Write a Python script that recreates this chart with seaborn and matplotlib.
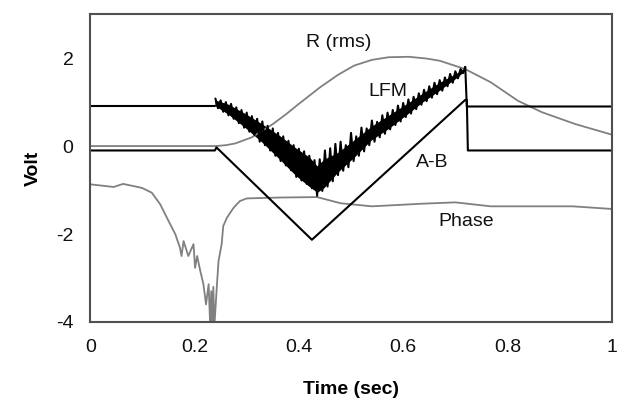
import matplotlib
matplotlib.use("Agg")
import matplotlib.pyplot as plt
import seaborn as sns

# R (rms) - smooth grey bell
r_x = [0.0, 0.24, 0.26, 0.278, 0.31, 0.35, 0.375, 0.40, 0.44, 0.475, 0.506, 0.54,
       0.572, 0.611, 0.645, 0.67, 0.719, 0.768, 0.82, 0.866, 0.93, 1.0]
r_y = [0.0, 0.0, 0.02, 0.06, 0.2, 0.5, 0.72, 0.96, 1.33, 1.62, 1.83, 1.96,
       2.02, 2.03, 1.99, 1.94, 1.75, 1.45, 1.03, 0.77, 0.50, 0.26]

# A-B - triangle
ab_x = [0.0, 0.239, 0.242, 0.425, 0.719, 0.722, 0.724, 1.0]
ab_y = [-0.10, -0.10, -0.03, -2.13, 1.05, 1.05, -0.10, -0.10]

# LFM - noisy band: envelope (upper / lower) and the jagged trace itself
lfm_x = [0.239, 0.265, 0.297, 0.33, 0.363, 0.395, 0.42, 0.435, 0.448, 0.474,
         0.507, 0.539, 0.572, 0.605, 0.637, 0.67, 0.703, 0.719]
lfm_hi = [1.05, 0.95, 0.74, 0.50, 0.24, -0.05, -0.25, -0.45, -0.30, -0.15,
          0.15, 0.45, 0.70, 0.95, 1.20, 1.45, 1.66, 1.78]
lfm_lo = [0.92, 0.72, 0.42, 0.08, -0.30, -0.68, -0.92, -1.05, -0.95, -0.60,
          -0.24, 0.14, 0.40, 0.70, 1.00, 1.27, 1.56, 1.72]

lfm_zx = [0.240, 0.245, 0.250, 0.255, 0.260, 0.265, 0.270, 0.275, 0.280, 0.285,
          0.290, 0.295, 0.300, 0.305, 0.310, 0.315, 0.320, 0.325, 0.330, 0.335,
          0.340, 0.345, 0.350, 0.355, 0.360, 0.365, 0.370, 0.375, 0.380, 0.385,
          0.390, 0.395, 0.400, 0.405, 0.410, 0.415, 0.420, 0.425, 0.430, 0.435,
          0.440, 0.445, 0.450, 0.455, 0.460, 0.465, 0.470, 0.475, 0.480, 0.485,
          0.490, 0.495, 0.500, 0.505, 0.510, 0.515, 0.520, 0.525, 0.530, 0.535,
          0.540, 0.545, 0.550, 0.555, 0.560, 0.565, 0.570, 0.575, 0.580, 0.585,
          0.590, 0.595, 0.600, 0.605, 0.610, 0.615, 0.620, 0.625, 0.630, 0.635,
          0.640, 0.645, 0.650, 0.655, 0.660, 0.665, 0.670, 0.675, 0.680, 0.685,
          0.690, 0.695, 0.700, 0.705, 0.710, 0.715, 0.719]
lfm_zy = [1.08, 0.86, 1.04, 0.78, 1.00, 0.70, 0.96, 0.62, 0.88, 0.52,
          0.82, 0.42, 0.76, 0.33, 0.68, 0.25, 0.62, 0.10, 0.56, 0.02,
          0.46, -0.10, 0.40, -0.22, 0.30, -0.34, 0.22, -0.44, 0.12, -0.55,
          0.02, -0.70, -0.06, -0.78, -0.12, -0.86, -0.22, -0.96, -0.32, -1.13,
          -0.30, -1.02, -0.10, -0.92, -0.05, -0.80, 0.05, -0.66, 0.10, -0.56,
          0.02, -0.48, 0.30, -0.34, 0.22, -0.22, 0.42, -0.12, 0.40, 0.02,
          0.58, 0.10, 0.55, 0.20, 0.70, 0.28, 0.76, 0.38, 0.82, 0.48,
          0.92, 0.56, 0.98, 0.66, 1.06, 0.74, 1.12, 0.84, 1.20, 0.94,
          1.28, 1.02, 1.36, 1.10, 1.44, 1.18, 1.50, 1.26, 1.56, 1.36,
          1.64, 1.44, 1.70, 1.54, 1.75, 1.66, 1.80]
lfm_flat_x = [0.0, 0.240]
lfm_flat_y = [0.90, 0.90]
lfm_tail_x = [0.719, 0.722, 1.0]
lfm_tail_y = [1.80, 0.90, 0.90]

# Phase - grey, deep dip near 0.23 s
ph_x = [0.0, 0.045, 0.063, 0.099, 0.118, 0.134, 0.15, 0.163, 0.172, 0.175, 0.179,
        0.188, 0.198, 0.201, 0.205, 0.211, 0.217, 0.222, 0.227, 0.230, 0.232, 0.234,
        0.236, 0.238, 0.243, 0.246, 0.252, 0.255, 0.262, 0.275, 0.287, 0.30, 0.364,
        0.435, 0.48, 0.54, 0.637, 0.70, 0.768, 0.925, 1.0]
ph_y = [-0.87, -0.93, -0.86, -0.95, -1.06, -1.32, -1.70, -2.0, -2.31, -2.5, -2.16,
        -2.5, -2.23, -2.77, -2.5, -2.84, -3.14, -3.6, -3.14, -4.1, -3.3, -4.1,
        -3.2, -4.1, -3.14, -2.61, -2.23, -1.82, -1.63, -1.40, -1.25, -1.19, -1.17,
        -1.16, -1.30, -1.37, -1.31, -1.28, -1.37, -1.37, -1.43]

labels = ["R (rms)", "LFM", "A-B", "Phase"]
label_x = [0.477, 0.57, 0.655, 0.72]
label_y = [2.36, 1.24, -0.37, -1.71]

sns.set_style("white")
plt.rcParams["font.family"] = ["Liberation Sans", "DejaVu Sans"]
plt.rcParams["axes.unicode_minus"] = False

fig = plt.figure(figsize=(6.18, 4.04), dpi=100)
ax = fig.add_axes([0.146, 0.203, 0.844, 0.762])

grey = "#808080"
sns.lineplot(x=r_x, y=r_y, color=grey, lw=1.3, sort=False, estimator=None, ax=ax)
sns.lineplot(x=ph_x, y=ph_y, color=grey, lw=1.3, sort=False, estimator=None, ax=ax)
sns.lineplot(x=ab_x, y=ab_y, color="black", lw=1.5, sort=False, estimator=None, ax=ax)
ax.fill_between(lfm_x, lfm_lo, lfm_hi, color="black", lw=0)
sns.lineplot(x=lfm_zx, y=lfm_zy, color="black", lw=1.5, sort=False, estimator=None, ax=ax)
sns.lineplot(x=lfm_flat_x, y=lfm_flat_y, color="black", lw=1.5, sort=False, estimator=None, ax=ax)
sns.lineplot(x=lfm_tail_x, y=lfm_tail_y, color="black", lw=1.5, sort=False, estimator=None, ax=ax)

for t, lx, ly in zip(labels, label_x, label_y):
    ax.text(lx, ly, t, ha="center", va="center", fontsize=14, color="#111111")

ax.set_xlim(0, 1)
ax.set_ylim(-4, 3)
ax.set_xticks([0, 0.2, 0.4, 0.6, 0.8, 1])
ax.set_xticklabels(["0", "0.2", "0.4", "0.6", "0.8", "1"])
ax.set_yticks([-4, -2, 0, 2])
ax.tick_params(direction="in", length=5, width=1, color=grey, labelsize=14,
               labelcolor="#111111", pad=12)
for s in ax.spines.values():
    s.set_color("#505050")
    s.set_linewidth(1.5)

ax.set_xlabel("Time (sec)", fontsize=14, fontweight="bold", labelpad=18, color="black")
ax.set_ylabel("Volt", fontsize=14, fontweight="bold", labelpad=10, color="black")

fig.savefig("out.png", dpi=100)
